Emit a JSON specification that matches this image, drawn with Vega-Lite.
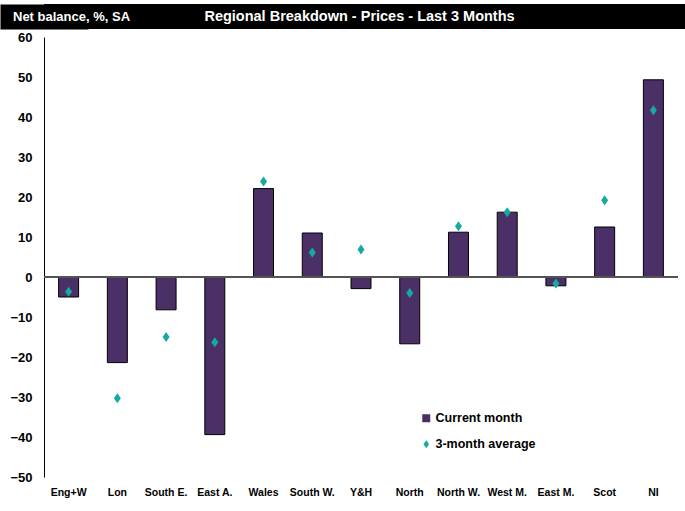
{
  "$schema": "https://vega.github.io/schema/vega-lite/v6.json",
  "background": "white",
  "padding": {"top": 4, "left": 0, "right": 0, "bottom": 0},
  "spacing": 2,
  "config": {
    "font": "Liberation Sans, Arial, sans-serif",
    "view": {"stroke": null}
  },
  "vconcat": [
    {
      "width": 641,
      "height": 25,
      "view": {"fill": "black", "stroke": null},
      "data": {"values": [
        {"text": "Net balance, %, SA", "role": "unit"},
        {"text": "Regional Breakdown - Prices - Last 3 Months", "role": "title"}
      ]},
      "encoding": {
        "y": {
          "datum": 0, "type": "quantitative",
          "scale": {"domain": [-1, 1]},
          "axis": {"title": null, "labels": false, "ticks": false, "grid": false, "domain": true, "domainColor": "black", "domainWidth": 88, "domainCap": "butt", "offset": 0, "minExtent": 44, "maxExtent": 44}
        }
      },
      "layer": [
        {
          "transform": [{"filter": "datum.role === 'unit'"}],
          "mark": {"type": "text", "align": "left", "baseline": "middle", "dx": -351.5, "color": "white", "fontSize": 13, "fontWeight": "bold"},
          "encoding": {"text": {"field": "text"}}
        },
        {
          "transform": [{"filter": "datum.role === 'title'"}],
          "mark": {"type": "text", "align": "center", "baseline": "middle", "dx": -5, "color": "white", "fontSize": 14.5, "fontWeight": "bold"},
          "encoding": {"text": {"field": "text"}}
        }
      ]
    },
    {
      "width": 634,
      "height": 440,
      "data": {"values": [
        {"region": "Eng+W", "series": "Current month", "value": -5.0},
        {"region": "Lon", "series": "Current month", "value": -21.4},
        {"region": "South E.", "series": "Current month", "value": -8.2},
        {"region": "East A.", "series": "Current month", "value": -39.4},
        {"region": "Wales", "series": "Current month", "value": 22.1},
        {"region": "South W.", "series": "Current month", "value": 11.0},
        {"region": "Y&H", "series": "Current month", "value": -2.9},
        {"region": "North", "series": "Current month", "value": -16.7},
        {"region": "North W.", "series": "Current month", "value": 11.2},
        {"region": "West M.", "series": "Current month", "value": 16.2},
        {"region": "East M.", "series": "Current month", "value": -2.2},
        {"region": "Scot", "series": "Current month", "value": 12.5},
        {"region": "NI", "series": "Current month", "value": 49.3},
        {"region": "Eng+W", "series": "3-month average", "value": -3.7},
        {"region": "Lon", "series": "3-month average", "value": -30.3},
        {"region": "South E.", "series": "3-month average", "value": -15.0},
        {"region": "East A.", "series": "3-month average", "value": -16.3},
        {"region": "Wales", "series": "3-month average", "value": 23.9},
        {"region": "South W.", "series": "3-month average", "value": 6.1},
        {"region": "Y&H", "series": "3-month average", "value": 6.9},
        {"region": "North", "series": "3-month average", "value": -4.0},
        {"region": "North W.", "series": "3-month average", "value": 12.7},
        {"region": "West M.", "series": "3-month average", "value": 16.2},
        {"region": "East M.", "series": "3-month average", "value": -1.6},
        {"region": "Scot", "series": "3-month average", "value": 19.2},
        {"region": "NI", "series": "3-month average", "value": 41.7}
      ]},
      "encoding": {
        "x": {
          "field": "region", "type": "nominal", "sort": null,
          "scale": {"paddingInner": 0.59, "paddingOuter": 0.3},
          "axis": {"title": null, "domain": false, "ticks": false, "labelAngle": 0, "labelPadding": 10, "labelFontSize": 10.5, "labelFontWeight": "bold", "labelColor": "black"}
        },
        "y": {
          "field": "value", "type": "quantitative",
          "scale": {"domain": [-50, 60], "nice": false, "zero": false},
          "axis": {"title": null, "values": [-50, -40, -30, -20, -10, 0, 10, 20, 30, 40, 50, 60], "grid": false, "ticks": false, "domainColor": "black", "labelPadding": 12, "minExtent": 44, "maxExtent": 44, "labelFontSize": 13, "labelFontWeight": "bold", "labelColor": "black"}
        }
      },
      "layer": [
        {
          "transform": [{"filter": "datum.series === 'Current month'"}],
          "mark": {"type": "bar", "stroke": "black", "strokeWidth": 1},
          "encoding": {
            "color": {
              "field": "series", "type": "nominal",
              "scale": {"domain": ["Current month", "3-month average"], "range": ["#4B3068", "#14AAA0"]},
              "legend": {"title": null, "orient": "none", "legendX": 376, "legendY": 408, "symbolSize": 64, "labelFontSize": 12.5, "labelFontWeight": "bold", "labelColor": "black", "rowPadding": 13, "labelOffset": 3, "symbolStrokeWidth": 0}
            }
          }
        },
        {
          "mark": {"type": "rule", "color": "#555555", "strokeWidth": 1},
          "encoding": {"y": {"datum": 0}, "x": null}
        },
        {
          "transform": [{"filter": "datum.series === '3-month average'"}],
          "mark": {"type": "point", "filled": true, "opacity": 1, "size": 100},
          "encoding": {
            "color": {"field": "series", "type": "nominal"},
            "shape": {
              "field": "series", "type": "nominal",
              "scale": {"domain": ["Current month", "3-month average"], "range": ["square", "M-0.7,0L0,-1L0.7,0L0,1Z"]}
            }
          }
        }
      ]
    }
  ]
}
